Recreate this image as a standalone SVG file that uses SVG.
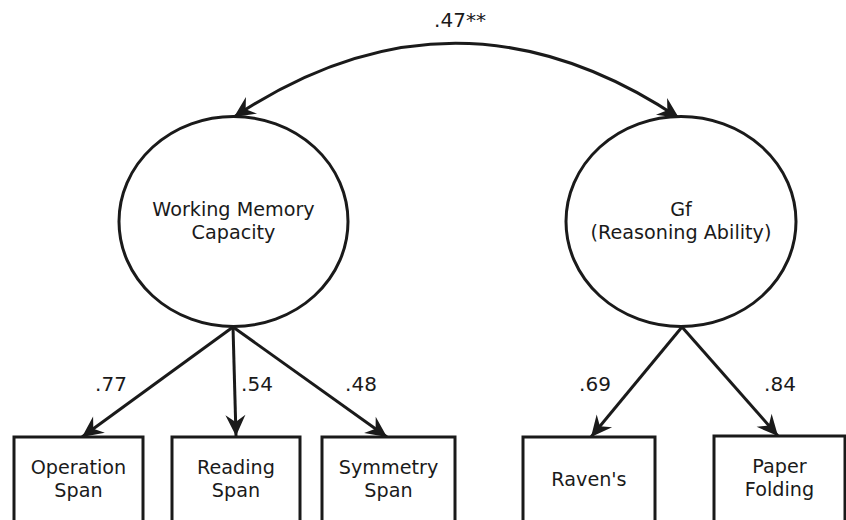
<svg xmlns="http://www.w3.org/2000/svg" width="846" height="520" viewBox="0 0 846 520">
<style>
.shape{fill:#fff;stroke:#1a1a1a;stroke-width:3}
.t{font-family:"DejaVu Sans",sans-serif;font-size:19.2px;fill:#1a1a1a;text-anchor:middle}
.n{font-size:20px}
.e{fill:none;stroke:#1a1a1a;stroke-width:3}
</style>
<defs>
<marker id="ah" markerUnits="userSpaceOnUse" markerWidth="24" markerHeight="24" viewBox="-22 -12 24 24" refX="0" refY="0" orient="auto">
<path d="M0,0 L-21,-10 L-14,0 L-21,10 Z" fill="#1a1a1a"/>
</marker>
<marker id="ahs" markerUnits="userSpaceOnUse" markerWidth="24" markerHeight="24" viewBox="-22 -12 24 24" refX="0" refY="0" orient="auto-start-reverse">
<path d="M0,0 L-21,-10 L-14,0 L-21,10 Z" fill="#1a1a1a"/>
</marker>
</defs>
<g id="connectors">
<path class="e" d="M234,117 Q456,-31 679,118" marker-start="url(#ahs)" marker-end="url(#ah)"/>
<line class="e" x1="233" y1="327" x2="82" y2="437" marker-end="url(#ah)"/>
<line class="e" x1="233" y1="327" x2="236" y2="436" marker-end="url(#ah)"/>
<line class="e" x1="233" y1="327" x2="387" y2="437" marker-end="url(#ah)"/>
<line class="e" x1="682" y1="327" x2="591" y2="437" marker-end="url(#ah)"/>
<line class="e" x1="682" y1="327" x2="778" y2="436" marker-end="url(#ah)"/>
<text class="t n" x="460" y="27">.47**</text>
<text class="t n" x="111" y="391">.77</text>
<text class="t n" x="257" y="391">.54</text>
<text class="t n" x="361" y="391">.48</text>
<text class="t n" x="595" y="391">.69</text>
<text class="t n" x="780" y="391">.84</text>
</g>
<g id="wmc">
<ellipse class="shape" cx="233.5" cy="221.5" rx="114.5" ry="105"/>
<text class="t" x="233.5" y="216">Working Memory</text>
<text class="t" x="233.5" y="239">Capacity</text>
</g>
<g id="gf">
<ellipse class="shape" cx="681" cy="221.5" rx="115" ry="105"/>
<text class="t" x="681" y="216">Gf</text>
<text class="t" x="681" y="239">(Reasoning Ability)</text>
</g>
<g id="opspan">
<rect class="shape" x="14" y="437" width="129" height="100"/>
<text class="t" x="78.5" y="474">Operation</text>
<text class="t" x="78.5" y="497">Span</text>
</g>
<g id="readspan">
<rect class="shape" x="172" y="437" width="128" height="100"/>
<text class="t" x="236" y="474">Reading</text>
<text class="t" x="236" y="497">Span</text>
</g>
<g id="symspan">
<rect class="shape" x="322" y="437" width="133" height="100"/>
<text class="t" x="388.5" y="474">Symmetry</text>
<text class="t" x="388.5" y="497">Span</text>
</g>
<g id="ravens">
<rect class="shape" x="523" y="437" width="132" height="100"/>
<text class="t" x="589" y="486">Raven's</text>
</g>
<g id="paper">
<rect class="shape" x="714" y="436" width="131" height="100"/>
<text class="t" x="779.5" y="473">Paper</text>
<text class="t" x="779.5" y="496">Folding</text>
</g>
</svg>
